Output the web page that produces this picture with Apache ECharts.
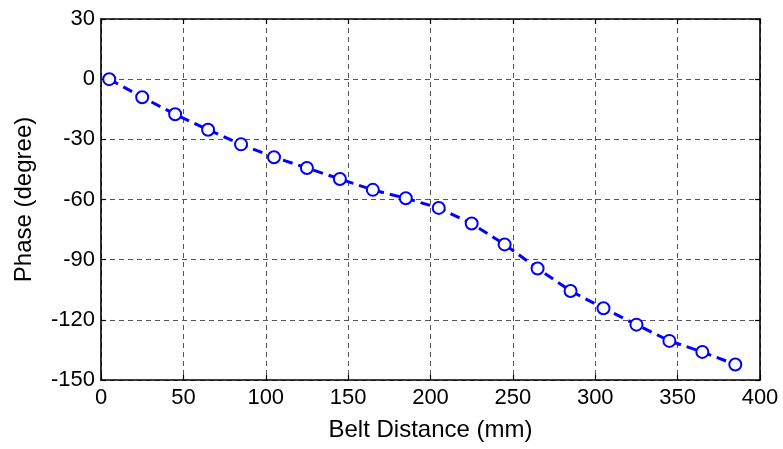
<!DOCTYPE html>
<html><head><meta charset="utf-8">
<script src="https://cdn.jsdelivr.net/npm/echarts@6/dist/echarts.min.js"></script>
<style>html,body{margin:0;padding:0;background:#fff}#c{width:783px;height:449px}</style>
</head><body><div id="c"></div>
<script>
const beltDistance = [5,25,45,65,85,105,125,145,165,185,205,225,245,265,285,305,325,345,365,385];
const phase = [0,-9,-17.5,-25.2,-32.5,-38.9,-44.3,-49.8,-55.2,-59.4,-64.2,-72.0,-82.4,-94.4,-105.6,-114.2,-122.4,-130.5,-136.0,-142.3];
const xTitle = 'Belt Distance (mm)';
const yTitle = 'Phase (degree)';

const font = 'Liberation Sans, Arial, sans-serif';
const chart = echarts.init(document.getElementById('c'), null, {renderer:'canvas'});
const axisLine = {show:true, onZero:false, lineStyle:{color:'#000', width:1.6}};
const tick = {show:true, inside:true, length:5, lineStyle:{color:'#000', width:1.2}};
const grid = {show:true, lineStyle:{color:'#555', width:1, type:[5,4]}};
chart.setOption({
  animation:false,
  grid:{left:101, right:23, top:19, bottom:69, show:false},
  xAxis:[{
    type:'value', min:0, max:400, interval:50, position:'bottom',
    axisLine, axisTick:tick, splitLine:grid,
    axisLabel:{color:'#000', fontSize:22, fontFamily:font, margin:7},
    name:xTitle, nameLocation:'middle', nameGap:38,
    nameTextStyle:{color:'#000', fontSize:24, fontFamily:font}
  },{
    type:'value', min:0, max:400, interval:50, position:'top',
    axisLine, axisTick:tick, splitLine:{show:false}, axisLabel:{show:false}
  }],
  yAxis:[{
    type:'value', min:-150, max:30, interval:30, position:'left',
    axisLine, axisTick:tick, splitLine:grid,
    axisLabel:{color:'#000', fontSize:22, fontFamily:font, margin:6},
    name:yTitle, nameLocation:'middle', nameGap:65,
    nameTextStyle:{color:'#000', fontSize:24, fontFamily:font}
  },{
    type:'value', min:-150, max:30, interval:30, position:'right',
    axisLine, axisTick:tick, splitLine:{show:false}, axisLabel:{show:false}
  }],
  series:[{
    type:'line',
    data: beltDistance.map((x,i)=>[x, phase[i]]),
    symbol:'emptyCircle', symbolSize:12,
    itemStyle:{color:'#0000ff', borderColor:'#0000ff', borderWidth:3},
    lineStyle:{color:'#0000ff', width:3, type:[10,6]},
    z:5
  }]
});
</script></body></html>
